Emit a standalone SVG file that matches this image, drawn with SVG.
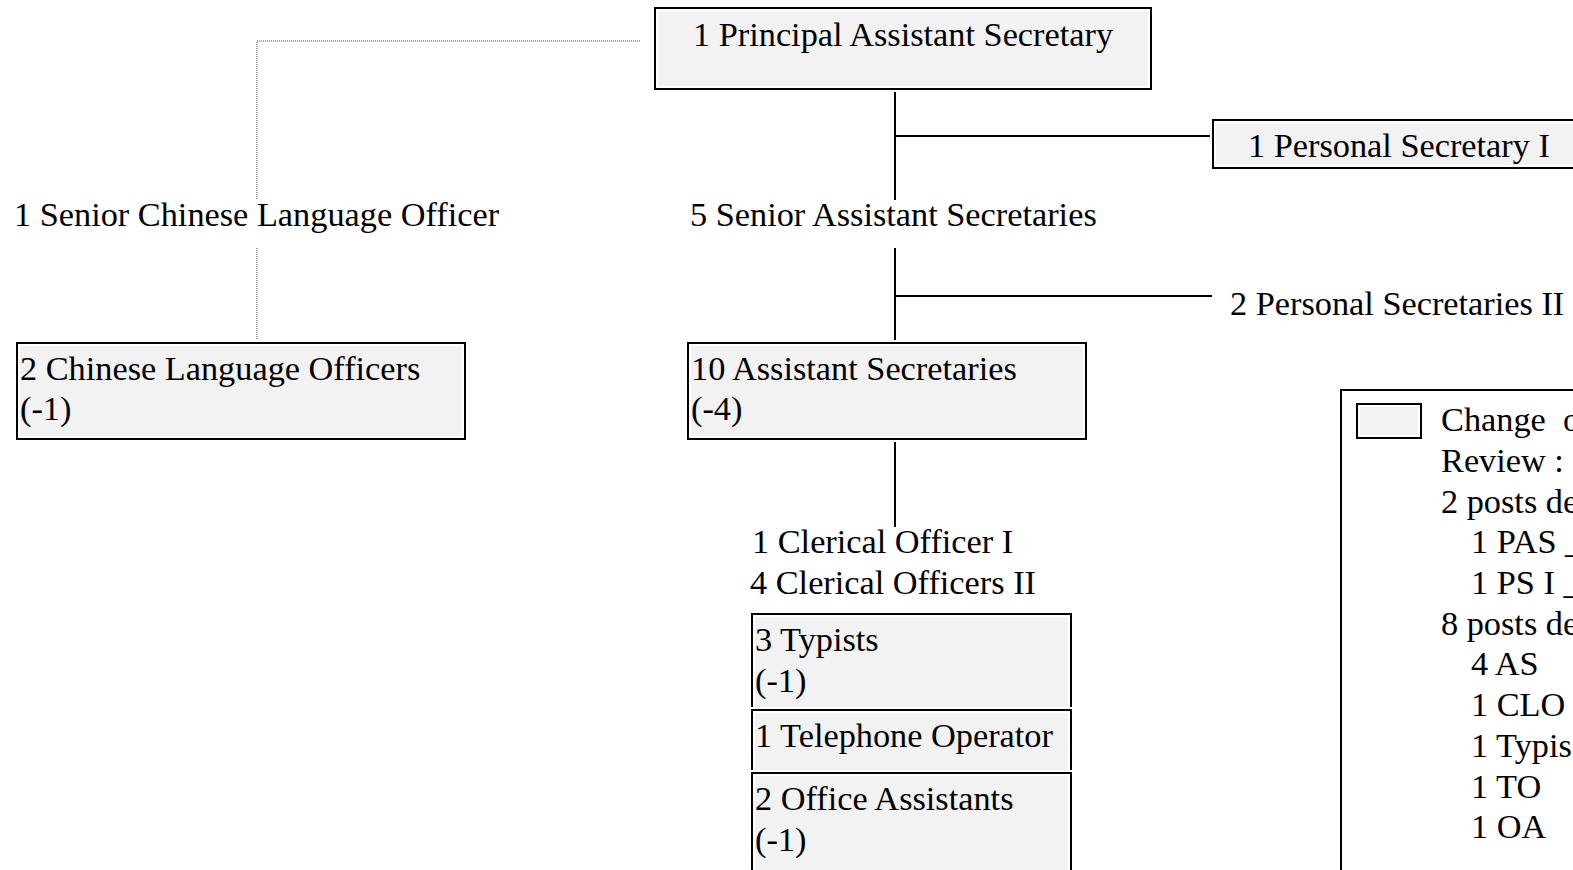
<svg xmlns="http://www.w3.org/2000/svg" width="1573" height="870" viewBox="0 0 1573 870">
<style>
text{font-family:"Liberation Serif","Times New Roman",serif;font-size:34.3px;fill:#000}
.bg{fill:#f2f2f2;stroke:#fff;stroke-width:6}
.bd{fill:none;stroke:#000;stroke-width:2}
.ln{stroke:#000;stroke-width:2;fill:none}
.dt{stroke:#444;stroke-width:1;stroke-dasharray:1 1;fill:none}
</style>
<rect width="1573" height="870" fill="#fff"/>
<g id="connectors">
<path class="ln" d="M895 89V200M895 248V343M895 439V527M895 136H1213M895 296H1212"/>
<path class="dt" d="M640 41H257V200M257 248V343"/>
</g>
<g id="pas">
<rect class="bg" x="655" y="8" width="496" height="81"/><rect class="bd" x="655" y="8" width="496" height="81"/>
<text x="693" y="46">1 Principal Assistant Secretary</text>
</g>
<g id="ps1">
<rect class="bg" x="1213" y="120" width="400" height="48"/><rect class="bd" x="1213" y="120" width="400" height="48"/>
<text x="1248" y="157">1 Personal Secretary I</text>
</g>
<g id="sclo"><text x="14" y="226">1 Senior Chinese Language Officer</text></g>
<g id="sas"><text x="690" y="226">5 Senior Assistant Secretaries</text></g>
<g id="ps2"><text x="1230" y="315">2 Personal Secretaries II</text></g>
<g id="clo">
<rect class="bg" x="17" y="343" width="448" height="96"/><rect class="bd" x="17" y="343" width="448" height="96"/>
<text x="20" y="380">2 Chinese Language Officers</text>
<text x="20" y="420">(-1)</text>
</g>
<g id="as">
<rect class="bg" x="688" y="343" width="398" height="96"/><rect class="bd" x="688" y="343" width="398" height="96"/>
<text x="691" y="380">10 Assistant Secretaries</text>
<text x="691" y="420">(-4)</text>
</g>
<g id="co"><text x="752" y="553">1 Clerical Officer I</text><text x="750" y="594">4 Clerical Officers II</text></g>
<g id="typists">
<rect class="bg" x="752" y="614" width="319" height="96"/><rect class="bd" x="752" y="614" width="319" height="96"/>
<text x="755" y="651">3 Typists</text><text x="755" y="692">(-1)</text>
</g>
<g id="to">
<rect class="bg" x="752" y="710" width="319" height="63"/><rect class="bd" x="752" y="710" width="319" height="63"/>
<text x="755" y="747">1 Telephone Operator</text>
</g>
<g id="oa">
<rect class="bg" x="752" y="773" width="319" height="110"/><rect class="bd" x="752" y="773" width="319" height="110"/>
<text x="755" y="810">2 Office Assistants</text><text x="755" y="851">(-1)</text>
</g>
<g id="legend">
<rect class="bd" x="1341" y="390" width="300" height="500"/>
<rect class="bg" x="1357" y="404" width="64" height="34"/><rect class="bd" x="1357" y="404" width="64" height="34"/>
<text x="1441" y="431" xml:space="preserve">Change  o</text>
<text x="1441" y="472">Review :</text>
<text x="1441" y="513">2 posts de</text>
<text x="1471" y="553">1 PAS _</text>
<text x="1471" y="594">1 PS I _</text>
<text x="1441" y="635">8 posts de</text>
<text x="1471" y="675">4 AS</text>
<text x="1471" y="716">1 CLO</text>
<text x="1471" y="757">1 Typis</text>
<text x="1471" y="798">1 TO</text>
<text x="1471" y="838">1 OA</text>
</g>
</svg>
